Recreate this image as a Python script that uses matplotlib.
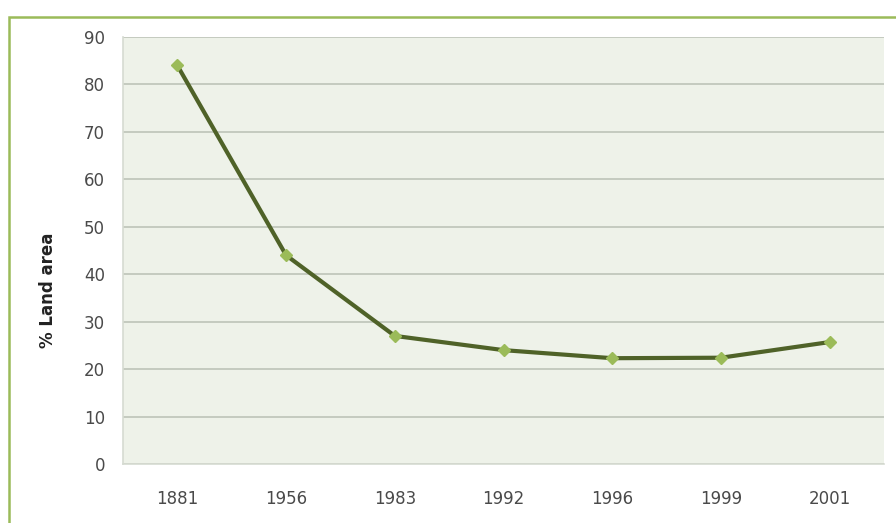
import matplotlib.pyplot as plt
from matplotlib.patches import Rectangle

plt.rcParams["font.family"] = ["DejaVu Sans"]

years = ["1881", "1956", "1983", "1992", "1996", "1999", "2001"]
land_pct = [84, 44, 27, 24, 22.3, 22.4, 25.7]
yticks = [0, 10, 20, 30, 40, 50, 60, 70, 80, 90]

W, H = 896, 523
fig = plt.figure(figsize=(W / 100, H / 100), dpi=100)
fig.patch.set_facecolor("white")

# green frame around the chart (only left and top edges visible)
fig.patches.append(Rectangle((9 / W, -0.05), 1.2, (H - 17) / H + 0.05,
                             transform=fig.transFigure, fill=False,
                             edgecolor="#9BBB59", linewidth=1.8))

ax = fig.add_axes([123 / W, (H - 464) / H, (884 - 123) / W, (464 - 37) / H])
ax.set_facecolor("#EEF2E9")

x = list(range(len(years)))
ax.plot(x, land_pct, color="#4F6228", linewidth=3.0, zorder=3,
        marker="D", markersize=6, markerfacecolor="#9BBB59",
        markeredgecolor="#9BBB59")

ax.set_xlim(-0.5, len(years) - 0.5)
ax.set_ylim(0, 90)
ax.set_yticks(yticks)
ax.set_xticks(x)
ax.set_xticklabels(years)
ax.yaxis.grid(True, color="#B9C0B4", linewidth=1.1)
ax.set_axisbelow(True)

for s in ["top", "right"]:
    ax.spines[s].set_visible(False)
for s in ["left", "bottom"]:
    ax.spines[s].set_color("#D6DBD2")
    ax.spines[s].set_linewidth(1.2)

ax.tick_params(axis="both", length=0, labelsize=12, colors="#4A4A4A")
ax.tick_params(axis="y", pad=13)
ax.tick_params(axis="x", pad=19)

# y label sits a little below the axes centre in the original
fig.text(48 / W, (H - 290) / H, "% Land area", rotation=90, ha="center",
         va="center", fontsize=12, fontweight="bold", color="#222222")

fig.savefig("out.png", dpi=100)
